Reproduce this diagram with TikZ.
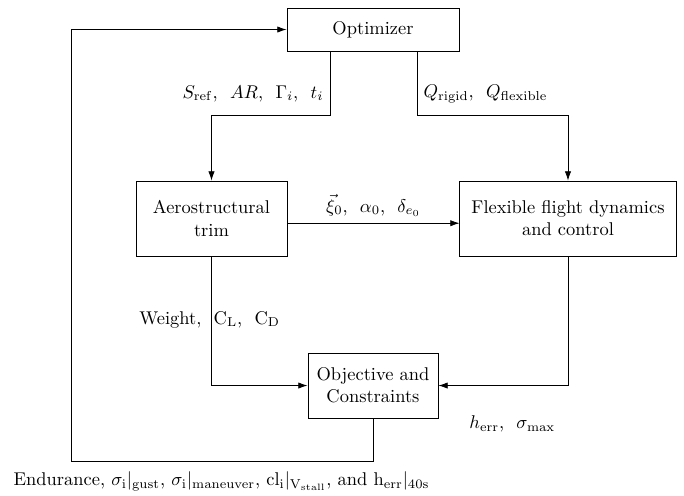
\documentclass[tikz,border=0pt]{standalone}
\usepackage{amsmath}
\usepackage{amssymb}
\usepackage{tikz}
\usetikzlibrary{arrows.meta,positioning}

\begin{document}
\begin{tikzpicture}[->,>={Latex[length=5pt,width=3.4pt]},
        block/.style={draw,rectangle,align=center,inner sep=2pt},
        scale = 1,transform shape]

  \useasboundingbox (0,0) rectangle (13.03,-9.43);

  \node[block,minimum width=3.28cm,minimum height=0.82cm] (opt) at (7.105,-0.562) {Optimizer};
  \node[block,minimum width=2.88cm,minimum height=1.43cm] (aero) at (4.029,-4.162) {Aerostructural\\trim};
  \node[block,minimum width=4.12cm,minimum height=1.43cm] (flex) at (10.82,-4.162) {Flexible flight dynamics\\and control};
  \node[block,minimum width=2.48cm,minimum height=1.24cm] (obj) at (7.105,-7.344) {Objective and\\Constraints};
  \coordinate (fb) at (1.353,-8.782);

  \draw ([xshift=-0.82cm]opt.south) -- ++(0,-1.22) node [left,pos=0.66] {$S_\mathrm{ref}$,~ $AR$,~ $\Gamma_i$,~ $t_i$} -| (aero.north);
  \draw ([xshift=0.84cm]opt.south) -- ++(0,-1.22) node [right,pos=0.66] {$Q_\mathrm{rigid}$,~ $Q_\mathrm{flexible}$} -| (flex.north);
  \draw ([yshift=-0.09cm]aero.east) -- node [above] {$\vec{\xi}_0$,~ $\alpha_0$,~ $\delta_{e_0}$} ([yshift=-0.09cm]flex.west);
  \draw (aero.south) |- node [pos=0.245,xshift=-1pt] {Weight,~ $\mathrm{C_L}$,~ $\mathrm{C_D}$} (obj.west);
  \draw (flex.south) |- node [below,pos=0.715,yshift=-0.45cm] {$h_\mathrm{err}$,~ $\sigma_\mathrm{max}$} (obj.east);
  \draw (obj.south) |- (fb) |- (opt.west);

  \node (endur) at (4.22,-9.163) {Endurance,\ $\sigma_\mathrm{i}|_\mathrm{gust}$,\ $\sigma_\mathrm{i}|_\mathrm{maneuver}$,\ $\mathrm{cl_i}|_{\mathrm{V_{stall}}}$,\ and $\mathrm{h_{err}}|_\mathrm{40s}$};

\end{tikzpicture}
\end{document}
